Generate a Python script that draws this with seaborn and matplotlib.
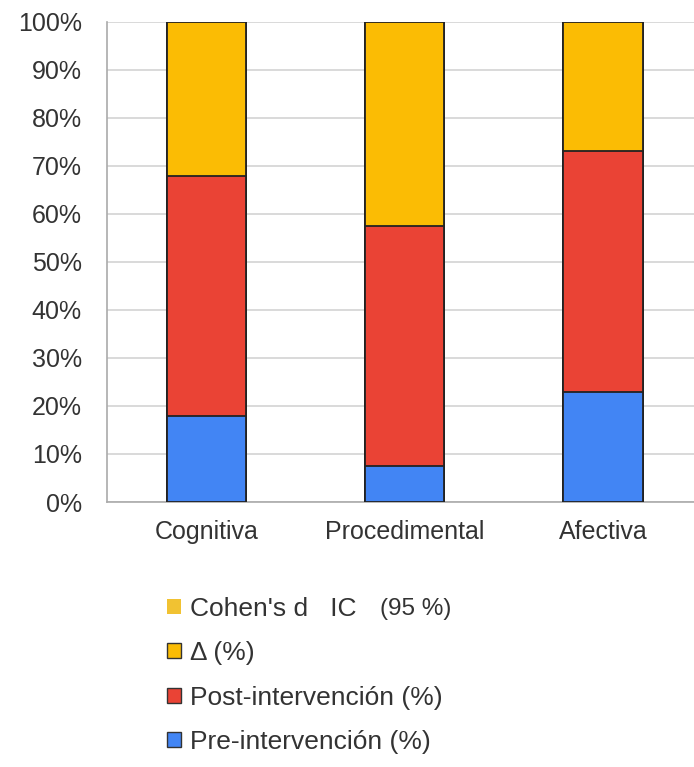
import numpy as np
import pandas as pd
import seaborn as sns
import matplotlib.pyplot as plt
from matplotlib.patches import Patch
from matplotlib.ticker import PercentFormatter

# data (percent of bar)
categories = ['Cognitiva', 'Procedimental', 'Afectiva']
pre = [18.0, 7.5, 23.0]
post = [50.0, 50.0, 50.0]
delta = [32.0, 42.5, 27.0]
cohen = [0.0, 0.0, 0.0]

labels = ["Cohen's d   IC", 'Δ (%)', 'Post-intervención (%)', 'Pre-intervención (%)']
cohen_suffix = '(95 %)'
colors = ['#f1c232', '#fbbc04', '#ea4335', '#4285f4']

sns.set_style('white')
plt.rcParams['font.family'] = ['Liberation Sans', 'DejaVu Sans']

df = pd.DataFrame({'cat': categories, 'pre': pre, 'post': post,
                   'delta': delta, 'cohen': cohen})
# cumulative tops so bars can be overlaid front-to-back
df['lvl_pre'] = df['pre']
df['lvl_post'] = df['lvl_pre'] + df['post']
df['lvl_delta'] = df['lvl_post'] + df['delta']
df['lvl_cohen'] = df['lvl_delta'] + df['cohen']

fig = plt.figure(figsize=(6.94, 7.67), dpi=100)
ax = fig.add_axes([0.154, 0.3455, 0.846, 0.626])

for col, c in zip(['lvl_cohen', 'lvl_delta', 'lvl_post', 'lvl_pre'], colors):
    sns.barplot(data=df, x='cat', y=col, color=c, order=categories, width=0.4,
                edgecolor='#222222', linewidth=1.3, saturation=1, ax=ax, zorder=3)

ax.set_ylim(0, 100)
ax.set_xlim(-0.505, 2.46)
ax.set_yticks(np.arange(0, 101, 10))
ax.yaxis.set_major_formatter(PercentFormatter(decimals=0))
ax.grid(axis='y', color='#d0d0d0', linewidth=1.1, zorder=0)
ax.set_axisbelow(True)
ax.set_xlabel('')
ax.set_ylabel('')
ax.tick_params(axis='both', length=0, labelsize=18, colors='#333333')
ax.tick_params(axis='x', pad=13)
ax.tick_params(axis='y', pad=18)
for s in ['top', 'right']:
    ax.spines[s].set_visible(False)
for s in ['left', 'bottom']:
    ax.spines[s].set_color('#aaaaaa')
    ax.spines[s].set_linewidth(1.2)

handles = [Patch(facecolor=colors[0], edgecolor='none')]
handles += [Patch(facecolor=c, edgecolor='#333333', linewidth=1) for c in colors[1:]]
leg = fig.legend(handles, labels, loc='upper left', bbox_to_anchor=(0.226, 0.236),
                 frameon=False, fontsize=19, handlelength=0.5, handleheight=0.5,
                 handletextpad=0.35, labelspacing=0.78, borderaxespad=0,
                 labelcolor='#333333')

# smaller "(95 %)" after the Cohen's d label
fig.canvas.draw()
bb = leg.get_texts()[0].get_window_extent()
fx, fy = fig.transFigure.inverted().transform((bb.x1 + 24, (bb.y0 + bb.y1) / 2))
fig.text(fx, fy, cohen_suffix, fontsize=17.5, color='#333333', va='center', ha='left')

fig.savefig('out.png', dpi=100)
